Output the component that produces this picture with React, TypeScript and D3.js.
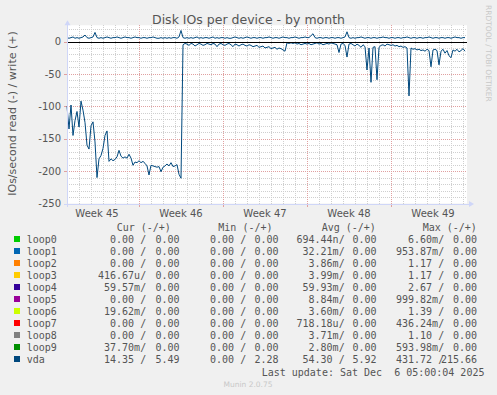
import React from 'react';
import * as d3 from 'd3';

const W = 497;
const H = 395;

const startTime = Date.UTC(2025, 10, 3, 0, 0, 0);
const endTime = Date.UTC(2025, 11, 6, 8, 0, 0);
const stepHours = 4;

// vda read (negative axis) IOs/s, one value per 4 hours
const vdaRead = [
  -100, -135, -98, -145, -122, -108, -132, -92, -106, -125,
  -160, -166, -130, -124, -155, -210, -181, -176, -165, -145,
  -138, -185, -181, -184, -182, -178, -168, -177, -180, -178,
  -180, -174, -180, -191, -186, -187, -184, -187, -185, -188,
  -192, -206, -191, -192, -193, -194, -193, -201, -194, -192,
  -189, -192, -187, -193, -192, -190, -205, -211,
  -5, -3, -4, -6, -3, -4, -7, -5, -3, -4,
  -6, -5, -3, -4, -5, -3, -4, -8, -4, -3,
  -5, -6, -4, -3, -5, -8, -4, -5, -7, -5,
  -4, -6, -7, -5, -6, -8, -7, -6, -9, -8,
  -7, -10, -9, -8, -11, -10, -9, -12, -10, -11,
  -13, -15, -2, -3, -2, -3, -2, -4, -3, -5,
  -4, -3, -4, -3, -5, -4, -3, -2, -4, -3,
  -5, -4, -3, -4, -2, -3, -4, -5, -17, -4,
  -3, -6, -24, -4, -3, -5, -7, -4, -6, -9,
  -5, -8, -44, -10, -63, -9, -8, -59, -9, -6,
  -5, -7, -4, -5, -6, -5, -7, -6, -8, -7,
  -9, -8, -10, -84, -10, -12, -11, -13, -12, -14,
  -13, -15, -12, -14, -39, -13, -12, -14, -36, -15,
  -12, -18, -14, -22, -25, -13, -15, -12, -16, -14,
  -11, -15,
];

// vda write (positive axis) IOs/s, one value per 4 hours
const vdaWrite = [
  6, 5, 6, 7, 5, 6, 5, 6, 7, 10,
  6, 5, 6, 7, 14, 6, 5, 6, 5, 6,
  7, 6, 5, 6, 6, 7, 6, 5, 6, 7,
  6, 6, 5, 6, 7, 6, 6, 5, 6, 6,
  5, 6, 6, 7, 6, 5, 5, 6, 5, 6,
  5, 6, 5, 6, 6, 5, 7, 17, 6, 5,
  6, 5, 6, 5, 6, 7, 5, 6, 5, 6,
  6, 5, 6, 7, 5, 6, 5, 6, 6, 5,
  6, 5, 5, 6, 7, 6, 5, 6, 5, 6,
  7, 6, 5, 6, 6, 5, 6, 6, 5, 6,
  6, 7, 6, 5, 6, 6, 5, 6, 7, 6,
  6, 5, 6, 6, 7, 6, 5, 6, 6, 7,
  6, 6, 9, 12, 6, 5, 6, 6, 5, 6,
  6, 5, 6, 6, 5, 6, 6, 5, 6, 7,
  15, 6, 5, 6, 5, 6, 6, 7, 6, 5,
  6, 6, 5, 6, 6, 5, 6, 6, 7, 6,
  6, 5, 6, 6, 5, 6, 6, 5, 6, 6,
  7, 6, 5, 6, 6, 5, 6, 6, 5, 6,
  6, 7, 6, 5, 6, 6, 5, 6, 6, 5,
  6, 6, 5, 6, 7, 6, 6, 5, 6, 6,
];

const yTicks = [0, -50, -100, -150, -200, -250];
const weekLabels = ['Week 45', 'Week 46', 'Week 47', 'Week 48', 'Week 49'];

const devices = ['loop0', 'loop1', 'loop2', 'loop3', 'loop4', 'loop5', 'loop6', 'loop7', 'loop8', 'loop9', 'vda'];
const deviceColors = ['#00CC00', '#0066B3', '#FF8000', '#FFCC00', '#330099', '#990099', '#CCFF00', '#FF0000', '#808080', '#008F00', '#00487D'];

const curNeg = ['0.00', '0.00', '0.00', '416.67u', '59.57m', '0.00', '19.62m', '0.00', '0.00', '37.70m', '14.35'];
const curPos = ['0.00', '0.00', '0.00', '0.00', '0.00', '0.00', '0.00', '0.00', '0.00', '0.00', '5.49'];
const minNeg = ['0.00', '0.00', '0.00', '0.00', '0.00', '0.00', '0.00', '0.00', '0.00', '0.00', '0.00'];
const minPos = ['0.00', '0.00', '0.00', '0.00', '0.00', '0.00', '0.00', '0.00', '0.00', '0.00', '2.28'];
const avgNeg = ['694.44n', '32.21m', '3.86m', '3.99m', '59.93m', '8.84m', '3.60m', '718.18u', '3.71m', '2.80m', '54.30'];
const avgPos = ['0.00', '0.00', '0.00', '0.00', '0.00', '0.00', '0.00', '0.00', '0.00', '0.00', '5.92'];
const maxNeg = ['6.60m', '953.87m', '1.17', '1.17', '2.67', '999.82m', '1.39', '436.24m', '1.10', '593.98m', '431.72'];
const maxPos = ['0.00', '0.00', '0.00', '0.00', '0.00', '0.00', '0.00', '0.00', '0.00', '0.00', '215.66'];

const columnHeaders = ['Cur (-/+)', 'Min (-/+)', 'Avg (-/+)', 'Max (-/+)'];
const lastUpdate = 'Last update: Sat Dec  6 05:00:04 2025';

function fmt(s: string): string {
  const hasUnit = /[a-zA-Z]$/.test(s);
  const unit = hasUnit ? s.slice(-1) : ' ';
  const num = hasUnit ? s.slice(0, -1) : s;
  return num.padStart(6, ' ') + unit;
}

export default function App() {
  const left = 67;
  const right = 467;
  const top = 25.3;
  const bottom = 203.5;

  const x = d3.scaleUtc().domain([new Date(startTime), new Date(endTime)]).range([left, right]);
  const y = d3.scaleLinear().domain([-250, 25]).range([bottom, top]);

  const tAt = (i: number) => new Date(startTime + i * stepHours * 3600e3);
  const line = d3
    .line<number>()
    .x((_, i) => x(tAt(i)))
    .y((d) => y(d));

  const days = d3.utcDay.range(new Date(startTime), new Date(endTime));
  const sundays = d3.utcSunday.range(new Date(startTime), new Date(endTime));
  const weekStarts = d3.utcSunday.range(new Date(startTime - 7 * 864e5), new Date(endTime));
  const labelTimes = weekStarts
    .map((d) => new Date(d.getTime() + 3.5 * 864e5))
    .filter((d) => d.getTime() > startTime && d.getTime() < endTime);

  const minorY = d3.range(-250, 25, 10);
  const r = (v: number) => Math.round(v) + 0.5;

  const textColor = '#555555';
  const mono = "'DejaVu Sans Mono', monospace";
  const sans = "'DejaVu Sans', sans-serif";

  const x1 = [98, 198, 296.5, 396];
  const x2 = [143.5, 242.5, 340.5, 441];
  const hx = [116.7, 218.3, 321.7, 422.7];
  const negCols = [curNeg, minNeg, avgNeg, maxNeg];
  const posCols = [curPos, minPos, avgPos, maxPos];

  return (
    <svg
      width={W}
      height={H}
      viewBox={`0 0 ${W} ${H}`}
      style={{ position: 'absolute', left: 0, top: 0, display: 'block' }}
    >
      <rect x={0} y={0} width={W} height={H} fill="#F0F0F0" />
      <rect x={left} y={top} width={right - left} height={bottom - top} fill="#FFFFFF" />

      {/* minor grid */}
      <g stroke="#CFCFCF" strokeWidth={1} strokeDasharray="1,1" shapeRendering="crispEdges">
        {minorY.map((v) => (
          <line key={'my' + v} x1={left} x2={right} y1={r(y(v))} y2={r(y(v))} />
        ))}
        {days.map((d) => (
          <line key={'mx' + d.getTime()} x1={r(x(d))} x2={r(x(d))} y1={top} y2={bottom} />
        ))}
      </g>
      {/* major grid */}
      <g stroke="#E0A0A0" strokeWidth={1} strokeDasharray="1,1" shapeRendering="crispEdges">
        {yTicks.map((v) => (
          <line key={'My' + v} x1={left} x2={right} y1={r(y(v))} y2={r(y(v))} />
        ))}
        {sundays.map((d) => (
          <line key={'Mx' + d.getTime()} x1={r(x(d))} x2={r(x(d))} y1={top} y2={bottom} />
        ))}
      </g>

      {/* axis ticks */}
      <g stroke="#E0A0A0" strokeWidth={1} shapeRendering="crispEdges">
        {sundays.map((d) => (
          <line key={'tx' + d.getTime()} x1={r(x(d))} x2={r(x(d))} y1={bottom} y2={bottom + 3} />
        ))}
        {yTicks.map((v) => (
          <line key={'ty' + v} x1={left - 3} x2={left} y1={r(y(v))} y2={r(y(v))} />
        ))}
      </g>

      {/* data */}
      <path d={line(vdaRead) || ''} fill="none" stroke="#00487D" strokeWidth={1} />
      <path d={line(vdaWrite) || ''} fill="none" stroke="#00487D" strokeWidth={1} />

      {/* zero rule */}
      <line x1={left} x2={right} y1={r(y(0))} y2={r(y(0))} stroke="#000000" strokeWidth={1} shapeRendering="crispEdges" />

      {/* axes */}
      <g stroke="#CFD6F8" strokeWidth={1} shapeRendering="crispEdges">
        <line x1={left + 0.5} x2={left + 0.5} y1={bottom + 3} y2={top - 2} />
        <line x1={left - 3} x2={right + 3} y1={bottom + 0.5} y2={bottom + 0.5} />
      </g>
      <path d={`M${left - 2.5},${top} L${left + 3.5},${top} L${left + 0.5},${top - 5} Z`} fill="#CFD6F8" />
      <path d={`M${right + 2},${bottom - 2.5} L${right + 2},${bottom + 3.5} L${right + 7},${bottom + 0.5} Z`} fill="#CFD6F8" />

      {/* y tick labels */}
      <g fontFamily={sans} fontSize={10} fill={textColor} textAnchor="end">
        {yTicks.map((v) => (
          <text key={'yl' + v} x={61} y={y(v) + 3.6}>
            {v}
          </text>
        ))}
      </g>
      {/* x labels */}
      <g fontFamily={sans} fontSize={10} fill={textColor} textAnchor="middle">
        {labelTimes.map((d, i) => (
          <text key={'xl' + i} x={x(d)} y={216.5}>
            {weekLabels[i]}
          </text>
        ))}
      </g>

      {/* title */}
      <text x={248.5} y={24} fontFamily={sans} fontSize={12.5} fill={textColor} textAnchor="middle">
        Disk IOs per device - by month
      </text>
      {/* y axis label */}
      <text
        transform="translate(15.5,113.5) rotate(-90)"
        fontFamily={sans}
        fontSize={11}
        fill={textColor}
        textAnchor="middle"
      >
        IOs/second read (-) / write (+)
      </text>
      {/* watermark */}
      <text transform="translate(486,5) rotate(90)" fontFamily={sans} fontSize={7.5} fill="#C8C8C8">
        RRDTOOL / TOBI OETIKER
      </text>

      {/* legend */}
      <g fontFamily={mono} fontSize={10} fill={textColor} style={{ whiteSpace: 'pre' }}>
        {columnHeaders.map((h, c) => (
          <text key={'h' + c} x={hx[c]} y={231} xmlSpace="preserve">
            {h}
          </text>
        ))}
        {devices.map((dev, i) => {
          const by = 243 + i * 12;
          return (
            <g key={dev}>
              <rect x={14} y={by - 7} width={6} height={6} fill={deviceColors[i]} />
              <text x={26.7} y={by}>{dev}</text>
              {negCols.map((col, c) => (
                <text key={'n' + c} x={x1[c]} y={by} xmlSpace="preserve">
                  {fmt(col[i]) + '/'}
                </text>
              ))}
              {posCols.map((col, c) => (
                <text key={'p' + c} x={x2[c]} y={by} xmlSpace="preserve">
                  {fmt(col[i])}
                </text>
              ))}
            </g>
          );
        })}
        <text x={261.7} y={375.5} xmlSpace="preserve">
          {lastUpdate}
        </text>
      </g>
      <text x={248} y={387} fontFamily={sans} fontSize={7.5} fill="#C8C8C8" textAnchor="middle">
        Munin 2.0.75
      </text>
    </svg>
  );
}
